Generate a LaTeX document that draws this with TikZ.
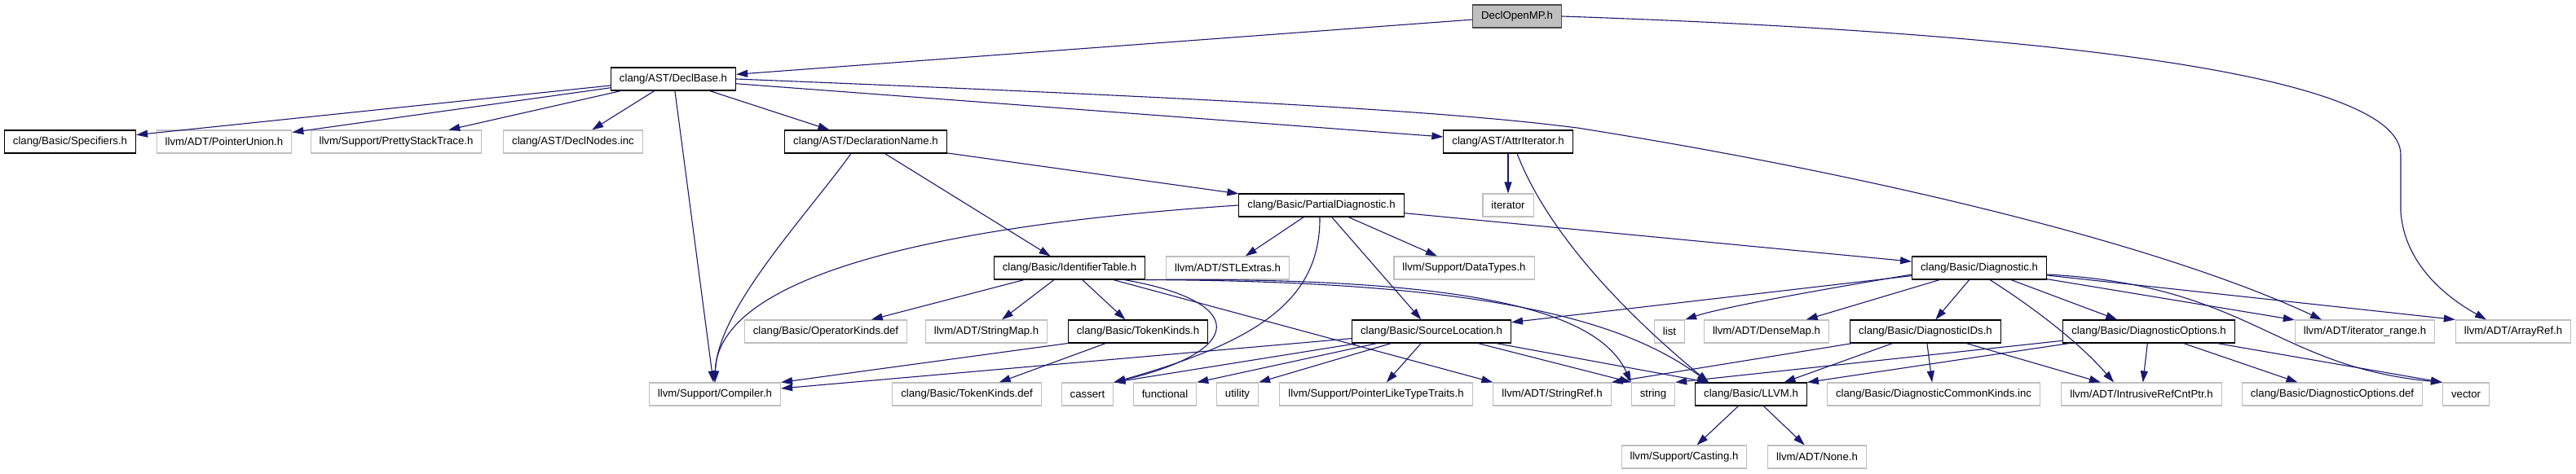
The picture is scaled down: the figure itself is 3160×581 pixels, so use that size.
\documentclass[tikz,border=0pt]{standalone}
\usepackage{fontspec}
\setmainfont{Liberation Sans}
\usepackage{tikz}
\usetikzlibrary{arrows.meta}
\definecolor{edgeblue}{HTML}{191970}
\definecolor{leafgray}{HTML}{BFBFBF}

\begin{document}
\begin{tikzpicture}[x=1pt, y=-1pt,
    box/.style={rectangle, minimum height=28pt, inner xsep=10.5pt, inner ysep=0pt, line width=1.1pt, font=\fontsize{13.2}{15}\selectfont},
    incnode/.style={box, draw=black, fill=white},
    leafnode/.style={box, draw=leafgray, fill=white},
    topnode/.style={box, draw=black!70, fill=leafgray},
    dep/.style={draw=edgeblue, line width=1.1pt, -{Triangle[length=14pt, width=9pt]}}]
    \useasboundingbox (0,0) rectangle (3160,581);

    % rows of files
    \node[topnode] (declopenmp) at (1861,20) {DeclOpenMP.h};
    \node[incnode] (declbase) at (826,97) {clang/AST/DeclBase.h};

    \node[incnode] (specifiers) at (86,174) {clang/Basic/Specifiers.h};
    \node[leafnode] (pointerunion) at (275,174) {llvm/ADT/PointerUnion.h};
    \node[leafnode] (prettystack) at (486,174) {llvm/Support/PrettyStackTrace.h};
    \node[leafnode] (declnodes) at (703,174) {clang/AST/DeclNodes.inc};
    \node[incnode] (declname) at (1062,174) {clang/AST/DeclarationName.h};
    \node[incnode] (attriter) at (1850,174) {clang/AST/AttrIterator.h};

    \node[incnode] (pdiag) at (1621,252) {clang/Basic/PartialDiagnostic.h};
    \node[leafnode] (iterator) at (1850,252) {iterator};

    \node[incnode] (identtable) at (1312,329) {clang/Basic/IdentifierTable.h};
    \node[leafnode] (stlextras) at (1506,329) {llvm/ADT/STLExtras.h};
    \node[leafnode] (datatypes) at (1796,329) {llvm/Support/DataTypes.h};
    \node[incnode] (diagnostic) at (2428,329) {clang/Basic/Diagnostic.h};

    \node[leafnode] (operatorkinds) at (1013,407) {clang/Basic/OperatorKinds.def};
    \node[leafnode] (stringmap) at (1210,407) {llvm/ADT/StringMap.h};
    \node[incnode] (tokenkinds) at (1396,407) {clang/Basic/TokenKinds.h};
    \node[incnode] (srcloc) at (1756,407) {clang/Basic/SourceLocation.h};
    \node[leafnode] (list) at (2048,407) {list};
    \node[leafnode] (densemap) at (2167,407) {llvm/ADT/DenseMap.h};
    \node[incnode] (diagids) at (2362,407) {clang/Basic/DiagnosticIDs.h};
    \node[incnode] (diagopts) at (2636,407) {clang/Basic/DiagnosticOptions.h};
    \node[leafnode] (iterrange) at (2901,407) {llvm/ADT/iterator\_range.h};
    \node[leafnode] (arrayref) at (3083,407) {llvm/ADT/ArrayRef.h};

    \node[leafnode] (compiler) at (877,484) {llvm/Support/Compiler.h};
    \node[leafnode] (tokenkindsdef) at (1186,484) {clang/Basic/TokenKinds.def};
    \node[leafnode] (cassert) at (1334,484) {cassert};
    \node[leafnode] (functional) at (1429,484) {functional};
    \node[leafnode] (utility) at (1518,484) {utility};
    \node[leafnode] (ptrtraits) at (1688,484) {llvm/Support/PointerLikeTypeTraits.h};
    \node[leafnode] (stringref) at (1904,484) {llvm/ADT/StringRef.h};
    \node[leafnode] (string) at (2028,484) {string};
    \node[incnode] (llvmh) at (2148,484) {clang/Basic/LLVM.h};
    \node[leafnode] (commonkinds) at (2372,484) {clang/Basic/DiagnosticCommonKinds.inc};
    \node[leafnode] (intrusive) at (2627,484) {llvm/ADT/IntrusiveRefCntPtr.h};
    \node[leafnode] (diagoptsdef) at (2861,484) {clang/Basic/DiagnosticOptions.def};
    \node[leafnode] (vector) at (3025,484) {vector};

    \node[leafnode] (casting) at (2066,561) {llvm/Support/Casting.h};
    \node[leafnode] (none) at (2229,561) {llvm/ADT/None.h};

    % includes
    \draw[dep] (declopenmp) -- (declbase);
    \draw[dep] (declopenmp.east) .. controls (2500,40) and (2945,90) .. (2945,190) -- (2945,260)
        .. controls (2950,330) and (3010,370) .. ([xshift=-33pt]arrayref.north);

    \draw[dep] (declbase) -- (specifiers);
    \draw[dep] (declbase) -- (pointerunion);
    \draw[dep] (declbase) -- (prettystack);
    \draw[dep] (declbase) -- (declnodes);
    \draw[dep] (declbase) -- (compiler);
    \draw[dep] (declbase) -- (declname);
    \draw[dep] (declbase) -- (attriter);
    \draw[dep] (declbase.east) .. controls (1600,125) and (1800,140) .. (1935,157)
        .. controls (2300,215) and (2650,300) .. ([xshift=-53pt]iterrange.north);

    \draw[dep] ([xshift=-18pt]declname.south) .. controls (985,270) and (880,380) .. (compiler.north);
    \draw[dep] (declname) -- (identtable);
    \draw[dep] (declname) -- (pdiag);

    \draw[dep] (attriter) -- (iterator);
    \draw[dep] ([xshift=11pt]attriter.south) .. controls (1900,290) and (2000,390) .. ([xshift=-52pt]llvmh.north);

    \draw[dep] (pdiag.west) .. controls (1100,280) and (880,350) .. (compiler.north);
    \draw[dep] (pdiag) -- (stlextras);
    \draw[dep] ([xshift=-2pt]pdiag.south) .. controls (1620,370) and (1540,420) .. (cassert.north east);
    \draw[dep] (pdiag) -- (srcloc);
    \draw[dep] (pdiag) -- (datatypes);
    \draw[dep] (pdiag) -- (diagnostic);

    \draw[dep] (identtable) -- (operatorkinds);
    \draw[dep] (identtable) -- (stringmap);
    \draw[dep] (identtable) -- (tokenkinds);
    \draw[dep] (identtable) -- (stringref.north west);
    \draw[dep] ([xshift=67pt]identtable.south) .. controls (1530,370) and (1530,430) .. (cassert.north east);
    \draw[dep] (identtable.south east) .. controls (1800,340) and (1960,380) .. (string.north west);
    \draw[dep] (identtable.south east) .. controls (1850,345) and (2000,400) .. ([xshift=-52pt]llvmh.north);

    \draw[dep] (tokenkinds.south west) -- (compiler.north east);
    \draw[dep] (tokenkinds) -- (tokenkindsdef);

    \draw[dep] (srcloc) -- (compiler);
    \draw[dep] (srcloc) -- (cassert.north east);
    \draw[dep] (srcloc) -- (functional.north east);
    \draw[dep] (srcloc) -- (utility.north east);
    \draw[dep] (srcloc) -- (ptrtraits);
    \draw[dep] (srcloc) -- (string.north west);
    \draw[dep] (srcloc) -- ([xshift=-52pt]llvmh.north);

    \draw[dep] (diagnostic) -- (srcloc);
    \draw[dep] ([yshift=-8pt]diagnostic.west) .. controls (2220,358) and (2110,378) .. (list.north east);
    \draw[dep] (diagnostic) -- (densemap);
    \draw[dep] (diagnostic) -- (diagids);
    \draw[dep] ([xshift=13pt]diagnostic.south) .. controls (2495,378) and (2550,420) .. ([xshift=-34pt]intrusive.north);
    \draw[dep] (diagnostic) -- (diagopts);
    \draw[dep] (diagnostic) -- (iterrange);
    \draw[dep] (diagnostic) -- (arrayref.north west);
    \draw[dep] ([yshift=-8pt]diagnostic.east) .. controls (2760,350) and (2790,450) .. (vector.north west);

    \draw[dep] (diagids) -- (stringref.north east);
    \draw[dep] (diagids) -- (llvmh);
    \draw[dep] (diagids) -- (commonkinds);
    \draw[dep] (diagids) -- (intrusive);

    \draw[dep] (diagopts) -- (string.north east);
    \draw[dep] (diagopts) -- (llvmh.north east);
    \draw[dep] (diagopts) -- (intrusive);
    \draw[dep] (diagopts) -- (diagoptsdef);
    \draw[dep] (diagopts) -- (vector.north west);

    \draw[dep] (llvmh) -- (casting);
    \draw[dep] (llvmh) -- (none);
\end{tikzpicture}
\end{document}
